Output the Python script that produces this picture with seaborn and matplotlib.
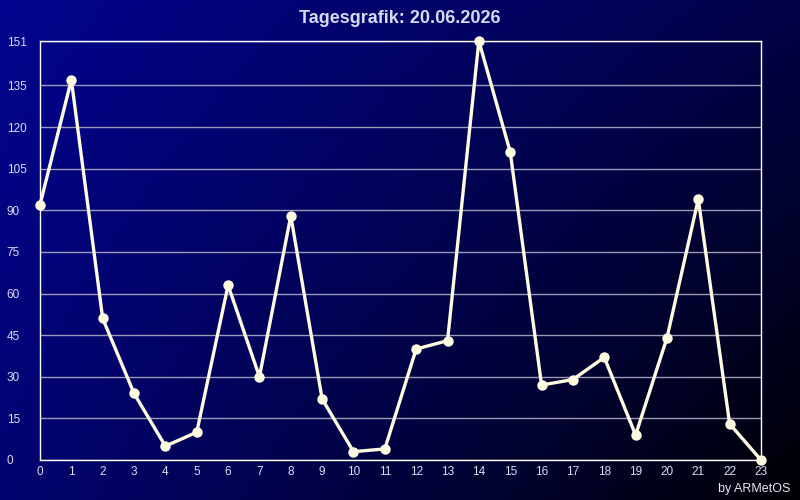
import numpy as np
import pandas as pd
import matplotlib
matplotlib.use('Agg')
import matplotlib.pyplot as plt
import seaborn as sns

# hourly values
hours = list(range(24))
values = [92, 137, 51, 24, 5, 10, 63, 30, 88, 22, 3, 4,
          40, 43, 151, 111, 27, 29, 37, 9, 44, 94, 13, 0]
y_ticks = [0, 15, 30, 45, 60, 75, 90, 105, 120, 135, 151]
title = 'Tagesgrafik: 20.06.2026'
credit = 'by ARMetOS'

sns.set_style('dark')
plt.rcParams['font.family'] = ['Liberation Sans', 'DejaVu Sans']

fig = plt.figure(figsize=(8, 5), dpi=100)

# gradient background: bilinear blend of the four corner blues
bg = fig.add_axes([0, 0, 1, 1], zorder=0)
gx, gy = np.meshgrid(np.linspace(0, 1, 400), np.linspace(0, 1, 250))
tl, tr, bl, br = 0.56, 0.28, 0.44, 0.02
blue = (tl * (1 - gx) * (1 - gy) + tr * gx * (1 - gy)
        + bl * (1 - gx) * gy + br * gx * gy)
img = np.zeros((250, 400, 3))
img[..., 2] = blue
img[..., 0] = blue * 0.02
img[..., 1] = blue * 0.03
bg.imshow(img, aspect='auto', extent=[0, 1, 0, 1])
bg.axis('off')

ax = fig.add_axes([0.05, 0.08, 0.90125, 0.838], zorder=1)
ax.set_facecolor('none')

df = pd.DataFrame({'hour': hours, 'value': values})
sns.lineplot(data=df, x='hour', y='value', ax=ax, color='#fffbe0', lw=2.4,
             marker='o', markersize=7.5, markeredgewidth=0, clip_on=False, zorder=3)

ax.set_xlim(0, 23)
ax.set_ylim(0, 151)
ax.set_xticks(hours)
ax.set_yticks(y_ticks)
ax.set_xlabel('')
ax.set_ylabel('')
ax.grid(axis='y', color='#9a9ab8', lw=1)
ax.grid(axis='x', visible=False)
for s in ax.spines.values():
    s.set_visible(True)
    s.set_color('white')
    s.set_linewidth(1)

ax.tick_params(axis='both', length=0, colors='#dcdcf2', labelsize=8.5)
ax.tick_params(axis='y', pad=24)
for lab in ax.get_yticklabels():
    lab.set_horizontalalignment('left')
ax.tick_params(axis='x', pad=4)

fig.text(0.5, 0.963, title, ha='center', va='center', fontsize=13,
         fontweight='bold', color='#d4daf0')
fig.text(0.988, 0.022, credit, ha='right', va='center', fontsize=9,
         color='#e8e8f0')

fig.savefig('out.png', dpi=100)
